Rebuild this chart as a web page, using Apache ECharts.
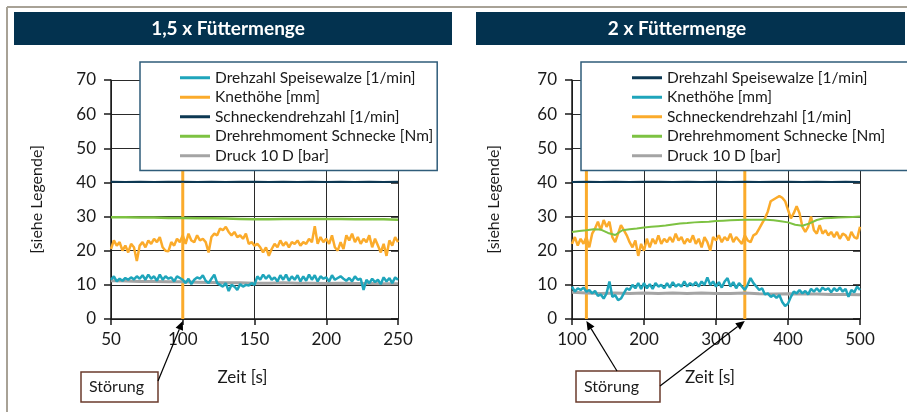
<!DOCTYPE html>
<html><head><meta charset="utf-8">
<script src="https://cdn.jsdelivr.net/npm/echarts@6/dist/echarts.min.js"></script>
<style>
html,body{margin:0;padding:0;background:#fff;width:907px;height:412px;overflow:hidden}
#l{position:absolute;left:0;top:0;width:453px;height:412px}
#r{position:absolute;left:453px;top:0;width:454px;height:412px}
</style></head><body><div id="l"></div><div id="r"></div>
<script>
// ---------- DATA ----------
const titleL = '1,5 x Füttermenge';
const titleR = '2 x Füttermenge';
const namesL = ['Drehzahl Speisewalze [1/min]','Knethöhe [mm]','Schneckendrehzahl [1/min]','Drehrehmoment Schnecke [Nm]','Druck 10 D [bar]'];
const namesR = ['Drehzahl Speisewalze [1/min]','Knethöhe [mm]','Schneckendrehzahl [1/min]','Drehrehmoment Schnecke [Nm]','Druck 10 D [bar]'];
const yTicks = [0,10,20,30,40,50,60,70];
const xTicksL = [50,100,150,200,250];
const xTicksR = [100,200,300,400,500];
const disturbL = [100];
const disturbR = [120,340];

// left chart: time grids
const timeL2 = []; for (let t = 50; t <= 250; t += 2) timeL2.push(t);
const timeL10 = []; for (let t = 50; t <= 250; t += 10) timeL10.push(t);
// right chart: time grids
const timeR4 = []; for (let t = 100; t <= 500; t += 4) timeR4.push(t);
const timeR10 = []; for (let t = 100; t <= 500; t += 10) timeR10.push(t);
const timeR20 = []; for (let t = 100; t <= 500; t += 20) timeR20.push(t);

// Left: Drehzahl Speisewalze (teal), every 2 s
const speiseL = [11.5,12.5,11,11.8,11.2,12,11.5,12.2,11.6,12.5,
 11.8,12.8,11.5,13,11.8,12.5,11.2,13,11.5,12.5,
 11.8,12.2,11,12.5,12,11.5,10.5,11.8,10.2,11.5,
 12.2,11.8,12.8,11.2,10.5,11.8,13,10.5,10,9.5,
 10.5,8.2,10,9.5,8.5,10.2,9.5,10,9.8,10.5,
 10,12.5,11.5,13,11.8,12.8,11.5,12.2,11,12.8,
 11.5,13,11.2,12.5,11.5,12.8,11,12.5,11.2,13,
 11.5,12.8,11,12.5,11.8,12.2,11,12.8,11.5,12,
 12.5,11.8,11.2,12,11,12.5,11.5,11.8,8.5,11.5,
 10.5,11.8,10.8,11.5,10.2,12.2,11,12,10.5,12.2,
 11.5];
// Left: Knethöhe (orange), every 2 s
const knetL = [20.5,23,21.5,22.5,20,21.5,19.5,22,21,17,
 21.5,22.5,21,23,22,23.5,22.5,24,21,20,
 19.8,22.5,21.5,23.5,22.5,24.5,22,25,23,22.5,
 24.5,23,23.5,22.5,19.5,24,25,24.5,26.5,26,
 27,25.5,24.5,25.5,24,24.5,23.5,25,22,22.5,
 21.5,22,21,19.5,21,18.5,20.5,22,21,23,
 21.5,22.5,21,22.5,22,23,21.5,22.5,22,23.5,
 22.5,27.2,22,24,22.5,23.5,22,24.5,21,20,
 22.5,20.5,24.5,23,25,22.5,24,22,23.5,22.5,
 24.5,21,23.5,21.5,19.5,22,18.5,23,21.5,24,
 22.5];
// Left: every 10 s
const schneckeL = [40.2,40.1,40.2,40.1,40.2,40.2,40.1,40.2,40.1,40.2,40.2,40.1,40.2,40.1,40.2,40.1,40.2,40.1,40.2,40.1,40.2];
const momentL = [29.8,29.8,29.7,29.7,29.6,29.6,29.5,29.5,29.4,29.3,29.2,29.2,29.3,29.3,29.3,29.3,29.3,29.2,29.2,29.2,29.1];
const druckL = [11.2,11.1,11.0,11.0,10.9,10.9,10.8,10.7,10.6,10.6,10.5,10.5,10.6,10.5,10.5,10.4,10.5,10.4,10.4,10.3,10.3];

// Right: Knethöhe (teal), every 4 s
const knetR = [9.5,8,9,8.5,9.2,8,8.5,7.5,8.2,6.8,
 7.2,6,7.5,11,6.5,7,5.5,6,7.5,9,
 8.5,10,9,10.5,8.8,10.5,9,10.2,8.8,10.5,
 9.5,10,9,10.5,9.2,10.8,9.5,10.2,9.5,11,
 9.5,10.5,9.8,10.8,9.5,11,10,12.2,10,11,
 9.5,10.8,9.2,11,12,9.5,10.8,9,10.5,9.5,
 8.5,10,12,10.5,9.5,8.5,9,7.2,7.5,6.5,
 7,6.2,7,5,3.8,4.5,6.5,8,7.5,8.5,
 7.5,8.2,7.2,8.8,8,9,8,9.2,8.5,9,
 7.8,9,8.2,9.2,8,8.8,6.5,8.5,7.8,9.5,
 8.5];
// Right: Schneckendrehzahl (orange), every 4 s
const schneckeR = [22,24,21.5,23.5,22,24,21,25,26.5,28.5,
 26,29,27,28.5,24,22.5,25,27.5,26,24.5,
 22.5,21,23,18.5,22,20,23.5,21,23.5,22,
 24.5,22,23.5,22.5,24,22.5,25,23,24,22,
 23.5,22.5,24.5,22,23.5,21,24,22.5,20,24,
 23,24.5,22.5,24,23,25,22.5,24,23,22,
 24.5,23,22.5,24.5,25,26.5,28,29.5,31.5,34.5,
 35,35.5,36,35.5,34.5,32,29.5,31,33,31,
 27,25.5,27,30,26,25,27.5,25,26,24.5,
 25.5,24,25.5,23.5,25,24.5,23,25.5,24,23.5,
 27];
// Right: Drehmoment, every 10 s
const momentR = [25.5,25.8,26,26.3,26.2,25.2,24.6,26,26.3,26.5,
 26.8,27,27.2,27.4,27.7,28,28.1,28.3,28.4,28.5,
 28.7,28.8,28.9,29,29.1,29.1,29.1,29.1,28.9,28.6,
 28.3,27.6,27.3,28,29,29.5,29.6,29.7,29.8,29.9,
 30];
// Right: every 20 s
const speiseR = [40.1,40.2,40.1,40.2,40.1,40.2,40.2,40.1,40.2,40.1,40.2,40.1,40.2,40.1,40.2,40.2,40.1,40.2,40.1,40.2,40.1];
const druckR = [7.8,7.6,7.5,7.6,7.5,7.6,7.5,7.6,7.5,7.6,7.5,7.5,7.6,7.4,7.3,7.4,7.3,7.3,7.2,7.2,7.1];

// ---------- STYLE ----------
const TEAL = '#1fa5bb', ORANGE = '#fbab2b', NAVY = '#0d3853', GREEN = '#7dc242', GRAY = '#a4a4a4';
const FONT = "Lato,'Open Sans',sans-serif";
const INK = '#1a1a1a';

function build(dom, c) {
  const chart = echarts.init(dom);
  const series = c.series.map(s => ({
    type: 'line', name: s.name, data: s.t.map((t, i) => [t, s.v[i]]),
    symbol: 'none', showSymbol: false, z: s.z || 2, silent: true,
    lineStyle: { width: s.w, color: s.color }, itemStyle: { color: s.color }
  }));
  c.disturb.forEach(d => series.unshift({
    type: 'line', name: 'Störung', data: [[d, yTicks[0]], [d, yTicks[yTicks.length - 1]]],
    symbol: 'none', z: 1, silent: true, lineStyle: { width: 3, color: ORANGE }
  }));
  const yBase = {
    type: 'value', min: yTicks[0], max: yTicks[yTicks.length - 1], interval: 10, gridIndex: 0
  };
  const opt = {
    animation: false,
    backgroundColor: 'transparent',
    textStyle: { fontFamily: FONT },
    grid: { left: c.gridLeft, top: 80, width: c.gridWidth, height: 239 },
    xAxis: {
      type: 'value', min: c.xTicks[0], max: c.xTicks[c.xTicks.length - 1], interval: c.xTicks[1] - c.xTicks[0],
      axisLine: { show: true, lineStyle: { color: INK, width: 1.5 } },
      axisTick: { show: true, inside: false, length: 6, lineStyle: { color: INK, width: 1.5 } },
      axisLabel: { margin: 12, fontSize: 17, color: INK, fontFamily: FONT },
      splitLine: { show: true, lineStyle: { color: '#2a2a2a', width: 1 } },
      name: 'Zeit [s]', nameLocation: 'middle', nameGap: 50,
      nameTextStyle: { fontSize: 17, color: INK, fontFamily: FONT, padding: c.namePad }
    },
    yAxis: [
      Object.assign({}, yBase, {
        axisLine: { show: true, lineStyle: { color: INK, width: 1.5 } },
        axisTick: { show: true, inside: false, length: 7, lineStyle: { color: INK, width: 1.5 } },
        axisLabel: { margin: 15, fontSize: 17, color: INK, fontFamily: FONT },
        splitLine: { show: true, lineStyle: { color: '#2a2a2a', width: 1 } },
        name: '[siehe Legende]', nameLocation: 'middle', nameGap: c.yNameGap,
        nameTextStyle: { fontSize: 16, color: INK, fontFamily: FONT }
      }),
      Object.assign({}, yBase, {
        axisLine: { show: false }, axisLabel: { show: false }, splitLine: { show: false },
        axisTick: { show: true, inside: true, length: 7, lineStyle: { color: INK, width: 1.5 } }
      })
    ],
    legend: {
      orient: 'vertical', left: c.legLeft, top: 62, padding: c.legPad,
      itemWidth: 30, itemHeight: 3, itemGap: 0, itemTextGap: 10, icon: 'rect',
      borderColor: '#2f5c7a', borderWidth: 1.5, backgroundColor: '#ffffff',
      selectedMode: false, z: 10,
      textStyle: { fontSize: 15.5, color: INK, fontFamily: FONT, lineHeight: 19.5 },
      data: c.names
    },
    series: series,
    graphic: c.staticGraphic
  };
  chart.setOption(opt);
  // annotation arrows to the disturbance points on the time axis
  const g = [];
  c.disturb.forEach((d, i) => {
    const tip = chart.convertToPixel({ gridIndex: 0 }, [d, yTicks[0]]);
    const st = c.arrowStart[i];
    const dx = tip[0] - st[0], dy = tip[1] + 2 - st[1];
    const len = Math.sqrt(dx * dx + dy * dy), ux = dx / len, uy = dy / len;
    const hx = tip[0] - ux * 9, hy = tip[1] + 2 - uy * 9;
    g.push({ type: 'line', z: 20, shape: { x1: st[0], y1: st[1], x2: hx, y2: hy }, style: { stroke: '#000', lineWidth: 1.2 } });
    g.push({ type: 'polygon', z: 20, shape: { points: [[tip[0], tip[1] + 2], [hx - uy * 4, hy + ux * 4], [hx + uy * 4, hy - ux * 4]] }, style: { fill: '#000' } });
  });
  chart.setOption({ graphic: c.staticGraphic.concat(g) });
  return chart;
}

function header(x, w, cx, text) {
  return [
    { type: 'rect', z: 5, shape: { x: x, y: 12, width: w, height: 33 }, style: { fill: '#03324f' } },
    { type: 'text', z: 6, x: cx, y: 29, style: { text: text, fill: '#fff', font: "bold 19px " + FONT, textAlign: 'center', textVerticalAlign: 'middle' } }
  ];
}
function box(x, y, w, h) {
  return [
    { type: 'rect', z: 5, shape: { x: x, y: y, width: w, height: h }, style: { fill: '#fff', stroke: '#6b3b2c', lineWidth: 1.5 } },
    { type: 'text', z: 6, x: x + 8, y: y + h / 2, style: { text: 'Störung', fill: INK, font: "16px " + FONT, textVerticalAlign: 'middle' } }
  ];
}
const frameCol = '#a8a296';

build(document.getElementById('l'), {
  names: namesL, xTicks: xTicksL, disturb: disturbL,
  gridLeft: 111, gridWidth: 287, yNameGap: 66, namePad: [0, 24, 0, 0],
  legLeft: 140, legPad: [6, 4, 5, 40],
  arrowStart: [[158, 381]],
  series: [
    { name: namesL[4], t: timeL10, v: druckL, color: GRAY, w: 3 },
    { name: namesL[0], t: timeL2, v: speiseL, color: TEAL, w: 2.5 },
    { name: namesL[1], t: timeL2, v: knetL, color: ORANGE, w: 2.5 },
    { name: namesL[2], t: timeL10, v: schneckeL, color: NAVY, w: 2 },
    { name: namesL[3], t: timeL10, v: momentL, color: GREEN, w: 2.5 }
  ],
  staticGraphic: [
    { type: 'line', z: 5, shape: { x1: 7, y1: 7, x2: 453, y2: 7 }, style: { stroke: frameCol, lineWidth: 2 } },
    { type: 'line', z: 5, shape: { x1: 7, y1: 7, x2: 7, y2: 412 }, style: { stroke: frameCol, lineWidth: 2 } }
  ].concat(header(14, 438, 228, titleL), box(81, 372, 77, 30))
});

build(document.getElementById('r'), {
  names: namesR, xTicks: xTicksR, disturb: disturbR,
  gridLeft: 119, gridWidth: 288, yNameGap: 70, namePad: [0, 12, 0, 0],
  legLeft: 128, legPad: [6, 26, 5, 51],
  arrowStart: [[164, 371], [207, 386]],
  series: [
    { name: namesR[4], t: timeR20, v: druckR, color: GRAY, w: 3 },
    { name: namesR[1], t: timeR4, v: knetR, color: TEAL, w: 2.5 },
    { name: namesR[2], t: timeR4, v: schneckeR, color: ORANGE, w: 2.5 },
    { name: namesR[0], t: timeR20, v: speiseR, color: NAVY, w: 2 },
    { name: namesR[3], t: timeR10, v: momentR, color: GREEN, w: 2 }
  ],
  staticGraphic: [
    { type: 'line', z: 5, shape: { x1: 0, y1: 7, x2: 454, y2: 7 }, style: { stroke: frameCol, lineWidth: 2 } }
  ].concat(header(23, 429, 224, titleR), box(123, 371, 84, 31))
});
</script></body></html>
